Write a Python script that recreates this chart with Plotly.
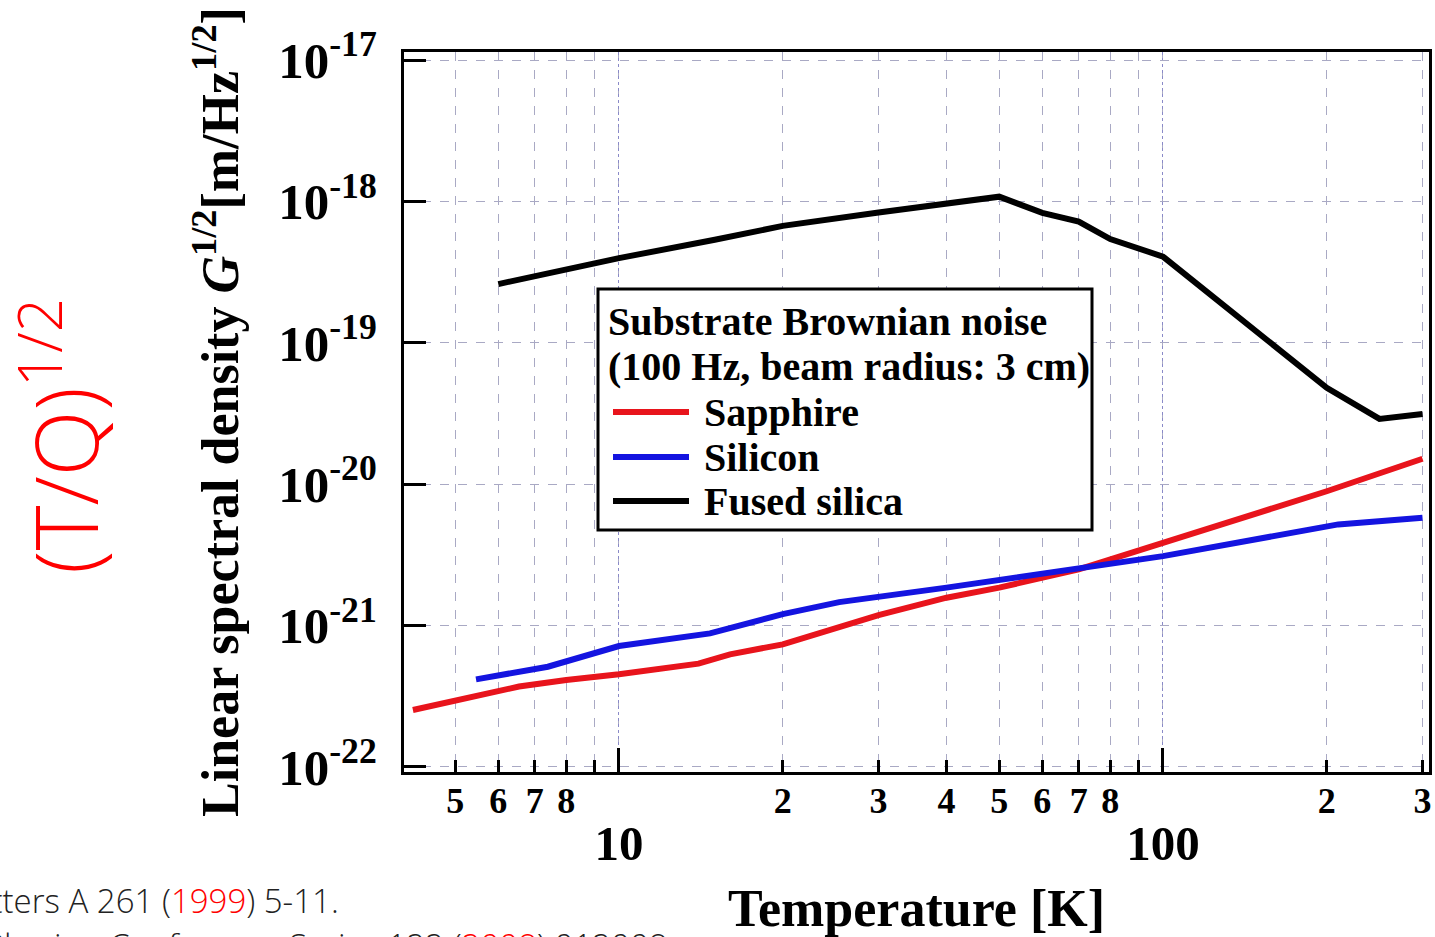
import plotly.graph_objects as go

# ---------------- data ----------------
sapphire_T = [4.18, 6, 6.55, 8, 10, 14, 16, 20, 30, 40, 50, 70, 100, 200, 300]
sapphire_v = [2.52e-22, 3.43e-22, 3.69e-22, 4.11e-22, 4.51e-22, 5.36e-22, 6.24e-22, 7.34e-22,
              1.18e-21, 1.57e-21, 1.85e-21, 2.49e-21, 3.84e-21, 8.89e-21, 1.51e-20]

silicon_T = [5.46, 7.4, 10, 14.7, 20, 25.4, 40, 50, 70, 100, 210, 300]
silicon_v = [4.15e-22, 5.10e-22, 7.14e-22, 8.78e-22, 1.20e-21, 1.46e-21, 1.85e-21, 2.09e-21,
             2.56e-21, 3.09e-21, 5.18e-21, 5.77e-21]

fused_T = [6, 10, 15, 20, 30, 40, 50, 60, 70, 80, 100, 200, 250, 300]
fused_v = [2.60e-19, 3.97e-19, 5.35e-19, 6.71e-19, 8.34e-19, 9.60e-19, 1.08e-18, 8.30e-19,
           7.19e-19, 5.41e-19, 4.07e-19, 4.79e-20, 2.89e-20, 3.13e-20]

series_names = ["Sapphire", "Silicon", "Fused silica"]
series_colors = ["#e8141c", "#1414e0", "#000000"]
legend_title = ["Substrate Brownian noise", "(100 Hz, beam radius: 3 cm)"]

x_major_vals = [10, 100]
x_major_text = ["10", "100"]
x_minor_vals = [5, 6, 7, 8, 20, 30, 40, 50, 60, 70, 80, 200, 300]
x_minor_text = ["5", "6", "7", "8", "2", "3", "4", "5", "6", "7", "8", "2", "3"]
y_vals = [1e-22, 1e-21, 1e-20, 1e-19, 1e-18, 1e-17]
y_text = ["10<sup>-22</sup>", "10<sup>-21</sup>", "10<sup>-20</sup>",
          "10<sup>-19</sup>", "10<sup>-18</sup>", "10<sup>-17</sup>"]

# ---------------- layout geometry ----------------
W, H = 1435, 937
ML, MR, MT, MB = 404, 6, 52, 165
PW, PH = W - ML - MR, H - MT - MB


def px(xp):
    return (xp - ML) / PW


def py(yp):
    return (H - MB - yp) / PH


SERIF = "Liberation Serif"
GRID_MINOR = "#a9a9c4"
GRID_MAJOR = "#8a8ac8"

fig = go.Figure()
fig.add_trace(go.Scatter(x=sapphire_T, y=sapphire_v, mode="lines", name=series_names[0],
                         line=dict(color=series_colors[0], width=6), showlegend=False))
fig.add_trace(go.Scatter(x=silicon_T, y=silicon_v, mode="lines", name=series_names[1],
                         line=dict(color=series_colors[1], width=6), showlegend=False))
fig.add_trace(go.Scatter(x=fused_T, y=fused_v, mode="lines", name=series_names[2],
                         line=dict(color=series_colors[2], width=6), showlegend=False,
                         xaxis="x2", yaxis="y"))

xr = [0.6048, 2.489]
yr = [-22.0375, -16.943]

fig.update_layout(
    width=W, height=H,
    margin=dict(l=ML, r=MR, t=MT, b=MB),
    paper_bgcolor="white", plot_bgcolor="white",
    showlegend=False,
    xaxis=dict(
        type="log", range=xr, automargin=False,
        showline=True, linewidth=3, linecolor="black", mirror=True,
        ticks="inside", ticklen=24, tickwidth=2.5, tickcolor="black",
        tickvals=x_major_vals, ticktext=x_major_text,
        tickfont=dict(family=SERIF, size=49, color="black", weight="bold"),
        ticklabelstandoff=26,
        showgrid=True, gridcolor=GRID_MAJOR, griddash="dot", gridwidth=1,
        zeroline=False,
        minor=dict(dtick="D1", ticks="inside", ticklen=12, tickwidth=2.5, tickcolor="black",
                   showgrid=True, gridcolor=GRID_MINOR, griddash="dash", gridwidth=1),
        title=dict(text="Temperature [K]", standoff=28,
                   font=dict(family=SERIF, size=52, color="black", weight="bold")),
    ),
    xaxis2=dict(
        type="log", range=xr, overlaying="x", anchor="y", side="bottom", automargin=False,
        showline=False, showgrid=False, zeroline=False, ticks="",
        tickvals=x_minor_vals, ticktext=x_minor_text,
        tickfont=dict(family=SERIF, size=36, color="black", weight="bold"),
        ticklabelstandoff=4,
    ),
    yaxis=dict(
        type="log", range=yr, automargin=False,
        showline=True, linewidth=3, linecolor="black", mirror=True,
        ticks="inside", ticklen=22, tickwidth=3, tickcolor="black",
        tickvals=y_vals, ticktext=y_text,
        tickfont=dict(family=SERIF, size=51, color="black", weight="bold"),
        ticklabelstandoff=14,
        showgrid=True, gridcolor=GRID_MINOR, griddash="dash", gridwidth=1,
        zeroline=False,
        title=dict(text="Linear spectral density <i>G</i><sup>1/2</sup>[m/Hz<sup>1/2</sup>]",
                   standoff=24,
                   font=dict(family=SERIF, size=52, color="black", weight="bold")),
    ),
)

# ---------------- legend box (drawn in paper space) ----------------
LEG_FONT = dict(family=SERIF, size=40, color="black", weight="bold")
fig.add_shape(type="rect", xref="paper", yref="paper", layer="above",
              x0=px(598), x1=px(1092), y0=py(530), y1=py(289),
              fillcolor="white", line=dict(color="black", width=3))
title_y = [321, 366]
for txt, yy in zip(legend_title, title_y):
    fig.add_annotation(text=txt, xref="paper", yref="paper", x=px(606), y=py(yy),
                       xanchor="left", yanchor="middle", showarrow=False, font=LEG_FONT)
entry_y = [412, 457, 501]
for name, col, yy in zip(series_names, series_colors, entry_y):
    fig.add_shape(type="line", xref="paper", yref="paper", layer="above",
                  x0=px(613), x1=px(689), y0=py(yy), y1=py(yy),
                  line=dict(color=col, width=6))
    fig.add_annotation(text=name, xref="paper", yref="paper", x=px(702), y=py(yy),
                       xanchor="left", yanchor="middle", showarrow=False, font=LEG_FONT)

# ---------------- surrounding slide text ----------------
fig.add_annotation(
    text="(T/Q)<sup>1/2</sup>", textangle=-90,
    xref="paper", yref="paper", x=px(60), y=py(436), xanchor="center", yanchor="middle",
    showarrow=False,
    font=dict(family="Open Sans", size=86, color="#ff0000", weight=300),
)
fig.add_annotation(
    text="Physics Letters A 261 (<span style='color:#ff0000'>1999</span>) 5-11.",
    xref="paper", yref="paper", x=px(341), y=py(900), xanchor="right", yanchor="middle",
    showarrow=False,
    font=dict(family="Open Sans", size=33, color="#222222", weight=300),
)
fig.add_annotation(
    text="Journal of Physics: Conference Series 122 (<span style='color:#ff0000'>2008</span>) 012008",
    xref="paper", yref="paper", x=px(670), y=py(945), xanchor="right", yanchor="middle",
    showarrow=False,
    font=dict(family="Open Sans", size=33, color="#222222", weight=300),
)

fig.write_html("out.html")
